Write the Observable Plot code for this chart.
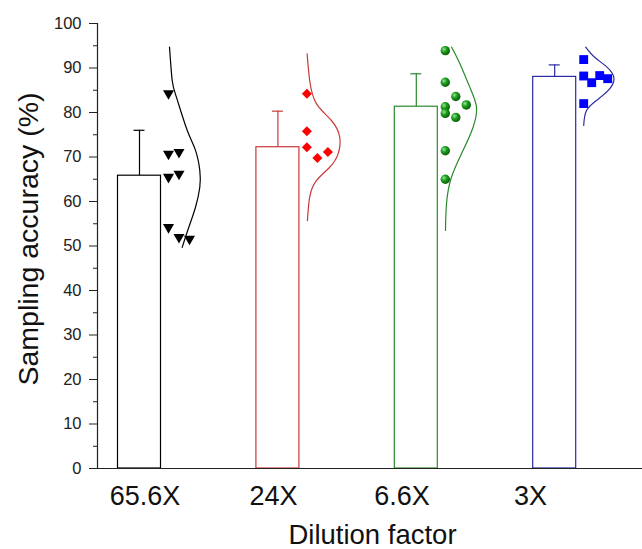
<!DOCTYPE html>
<html>
<head>
<meta charset="utf-8">
<script src="https://cdn.jsdelivr.net/npm/d3@7"></script>
<script src="https://cdn.jsdelivr.net/npm/@observablehq/plot@0.6"></script>
<style>
  html, body { margin: 0; padding: 0; background: white; }
  #chart svg { display: block; }
</style>
</head>
<body>
<div id="chart"></div>
<script>
// ---------- data ----------
const categories = ["65.6X", "24X", "6.6X", "3X"];
const means = [65.8, 72.2, 81.3, 88.0];
const sds = [10.2, 8.1, 7.4, 2.7];

const pts65 = [84.3, 70.7, 71.1, 65.5, 66.2, 54.2, 52.0, 51.6];
const slots65 = [0, 0, 1, 0, 1, 0, 1, 2];
const pts24 = [84.2, 75.8, 72.2, 69.8, 71.1];
const slots24 = [0, 0, 0, 1, 2];
const pts66 = [93.9, 86.8, 83.6, 81.7, 81.3, 79.8, 78.9, 71.4, 65.0];
const slots66 = [0, 0, 1, 2, 0, 0, 1, 0, 0];
const pts3 = [91.9, 88.2, 86.7, 88.3, 87.6, 82.0];
const slots3 = [0, 0, 1, 2, 3, 0];

// distribution curves: value (y) and horizontal width (px from curve base)
const curve65Y = [94.7, 87.2, 83.4, 76.0, 71.5, 67.0, 63.2, 58.7, 54.2, 49.7];
const curve65W = [1, 3.7, 8, 18.7, 27, 31.3, 31.3, 27, 20.3, 13.7];
const curve24Y = [93.2, 87.2, 82.0, 78.2, 74.5, 70.7, 67.7, 64.7, 61.0, 55.7];
const curve24W = [0.2, 2.8, 9.5, 24.5, 32.8, 31.2, 22.8, 9.5, 2.8, 0.5];
const curve66Y = [94.7, 91.0, 85.7, 81.2, 76.7, 71.5, 65.5, 59.5, 53.5];
const curve66W = [6.2, 14.5, 24.5, 31.2, 27.8, 17.8, 6.2, 1.2, 0.2];
const curve3Y = [94.7, 92.4, 90.2, 87.6, 84.9, 82.7, 80.4, 77.1];
const curve3W = [2, 11, 23.3, 30.3, 24.3, 12.7, 2.7, 0];

const yTicks = [0, 10, 20, 30, 40, 50, 60, 70, 80, 90, 100];

// ---------- styles / layout ----------
const lineColors = ["#000000", "#c83a3a", "#2a8a2a", "#2a2aa0"];
const pointColors = ["#000000", "#ff0000", "url(#greenBall)", "#0000ff"];
const symbols = ["triangle", "square", "circle", "square"];
const rotations = [180, 45, 0, 0];
const radii = [4.1, 4.0, 4.7, 5.0];
const slotStep = [10.5, 10.5, 10.5, 8];

const W = 642, H = 549;
const mL = 97, mR = 0, mT = 23, mB = 81;
const unit = 138.4;            // px per category
const firstCenter = 42;         // px from left of frame to first bar center
const xDomain = [-firstCenter / unit, (W - mL - mR - firstCenter) / unit];
const barHalf = 21.5 / unit;
const capHalf = 5.5 / unit;
const ptBase = 29 / unit;

const pointSets = [[pts65, slots65], [pts24, slots24], [pts66, slots66], [pts3, slots3]];
const curveSets = [[curve65Y, curve65W], [curve24Y, curve24W], [curve66Y, curve66W], [curve3Y, curve3W]];

const bars = categories.map((c, g) => ({g, c, mean: means[g], sd: sds[g], color: lineColors[g]}));
const curves = curveSets.flatMap(([ys, ws], g) => ys.map((y, k) => ({g, y, x: g + ptBase + ws[k] / unit, color: lineColors[g]})));

const dotMarks = pointSets.map(([vals, slots], g) =>
  Plot.dot(vals.map((v, k) => ({v, x: g + ptBase + slots[k] * slotStep[g] / unit})), {
    x: "x", y: "v", symbol: symbols[g], r: radii[g], rotate: rotations[g],
    fill: pointColors[g], stroke: "none"
  })
);

const labelPos = (i) => (144.5 + 128.5 * i - mL - firstCenter) / unit;

const chart = Plot.plot({
  width: W, height: H,
  marginLeft: mL, marginRight: mR, marginTop: mT, marginBottom: mB,
  x: {domain: xDomain, axis: null},
  y: {domain: [0, 100], axis: null},
  color: {type: "identity"},
  style: {fontFamily: "Arial, 'Liberation Sans', sans-serif", background: "white", color: "#222"},
  marks: [
    Plot.rect(bars, {x1: d => d.g - barHalf, x2: d => d.g + barHalf, y1: 0, y2: "mean", fill: "white", stroke: "color", strokeWidth: 1.2}),
    Plot.ruleX(bars, {x: "g", y1: "mean", y2: d => d.mean + d.sd, stroke: "color", strokeWidth: 1.2}),
    Plot.ruleY(bars, {y: d => d.mean + d.sd, x1: d => d.g - capHalf, x2: d => d.g + capHalf, stroke: "color", strokeWidth: 1.2}),
    Plot.line(curves, {x: "x", y: "y", z: "g", stroke: "color", strokeWidth: 1.2, curve: "natural"}),
    ...dotMarks,
    Plot.ruleX([xDomain[0]], {y1: 0, y2: 100, stroke: "#222", strokeWidth: 1.2}),
    Plot.ruleY([0], {stroke: "#222", strokeWidth: 1.2}),
    Plot.axisY({ticks: yTicks, tickSize: 8, tickPadding: 8, fontSize: 16.5, label: null, stroke: "#222"}),
    Plot.axisY({ticks: yTicks.slice(0, -1).map(t => t + 5), tickSize: 4, tickFormat: () => "", label: null, stroke: "#222"}),
    Plot.text(categories, {x: (d, i) => labelPos(i), y: 0, dy: 28, fontSize: 27, fill: "#111", textAnchor: "middle", lineAnchor: "middle"}),
    Plot.text(["Dilution factor"], {frameAnchor: "bottom", dx: 2.5, dy: 67, fontSize: 27.5, fill: "#111", textAnchor: "middle", lineAnchor: "middle"}),
    Plot.text(["Sampling accuracy (%)"], {frameAnchor: "left", rotate: -90, dx: -69, dy: -7, fontSize: 28.5, fill: "#111", textAnchor: "middle", lineAnchor: "middle"})
  ]
});

// gradient for the green balls
const svg = d3.select(chart);
const defs = svg.insert("defs", ":first-child");
const grad = defs.append("radialGradient").attr("id", "greenBall").attr("cx", "35%").attr("cy", "35%").attr("r", "65%");
grad.append("stop").attr("offset", "0%").attr("stop-color", "#9be39b");
grad.append("stop").attr("offset", "45%").attr("stop-color", "#1fa01f");
grad.append("stop").attr("offset", "100%").attr("stop-color", "#0b5e0b");

document.getElementById("chart").appendChild(chart);
</script>
</body>
</html>
